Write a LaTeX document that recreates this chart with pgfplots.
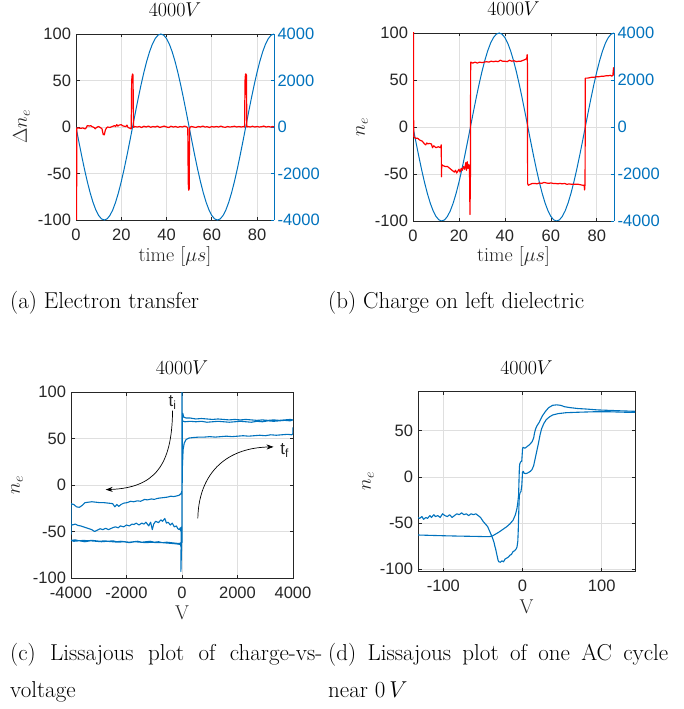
\RequirePackage{fix-cm}
\documentclass[border=0pt]{standalone}
\usepackage{fontspec}
\setsansfont{Liberation Sans}
\usepackage{pgfplots}
\usepackage{pgfplotstable}
\pgfplotsset{compat=1.18}
\usetikzlibrary{arrows.meta}

\definecolor{mblue}{RGB}{0,114,189}
\definecolor{axgray}{RGB}{38,38,38}
\definecolor{gridgray}{RGB}{223,223,223}

\newcommand\capfont{\fontsize{23}{28}\selectfont}

\pgfplotsset{
  matfig/.style={
    scale only axis,
    axis line style={axgray, line width=0.8pt},
    every tick/.style={axgray, line width=0.6pt},
    tick align=inside,
    major tick length=3.5pt,
    grid=major,
    major grid style={gridgray, line width=0.6pt},
    tick label style={font=\fontsize{16.5}{16.5}\sffamily, text=axgray},
    xticklabel style={yshift=-5pt},
    yticklabel style={xshift=-1.5pt},
    label style={font=\fontsize{20}{20}\selectfont, text=axgray},
    title style={font=\fontsize{20}{20}\selectfont, at={(axis description cs:0.5,1.097)}, anchor=center},
    scaled ticks=false,
    /pgf/number format/assume math mode=true,
    /pgf/number format/1000 sep={},
  },
}

% drive voltage, 20 kHz, amplitude 4000 V
\pgfplotstableread{
t V
0 0
1.25 -626
2.5 -1236
3.75 -1816
5 -2351
6.25 -2828
7.5 -3236
8.75 -3564
10 -3804
11.25 -3951
12.5 -4000
13.75 -3951
15 -3804
16.25 -3564
17.5 -3236
18.75 -2828
20 -2351
21.25 -1816
22.5 -1236
23.75 -626
25 0
26.25 626
27.5 1236
28.75 1816
30 2351
31.25 2828
32.5 3236
33.75 3564
35 3804
36.25 3951
37.5 4000
38.75 3951
40 3804
41.25 3564
42.5 3236
43.75 2828
45 2351
46.25 1816
47.5 1236
48.75 626
50 0
51.25 -626
52.5 -1236
53.75 -1816
55 -2351
56.25 -2828
57.5 -3236
58.75 -3564
60 -3804
61.25 -3951
62.5 -4000
63.75 -3951
65 -3804
66.25 -3564
67.5 -3236
68.75 -2828
70 -2351
71.25 -1816
72.5 -1236
73.75 -626
75 0
76.25 626
77.5 1236
78.75 1816
80 2351
81.25 2828
82.5 3236
83.75 3564
85 3804
86.25 3951
87.5 4000
}\drivetab

% electron transfer per step
\pgfplotstableread{
t dn
0.2 -150
0.35 -1
1 -1
2 -1.5
3 -1
4 -2
4.5 -1
5 1.5
6 1
6.5 1.5
7 0.5
8 -0.5
8.5 -2
9 -0.5
10 0.5
11 -1
11.5 -2
12 -8
12.5 -8.5
13 -3
13.5 -1
14 0
15 -0.5
16 0.5
17 1.5
17.5 0.5
18 2.5
18.5 1
19 2
20 2.5
20.5 1.5
21 1
22 0.5
22.5 2
23 -0.5
23.5 -1
24 -1.5
24.4 -2
24.6 50
24.8 55
25.0 57
25.2 56
25.4 -0.5
26 0.5
27 0
28 0.5
29 -0.5
30 0.8
31 0
32 1
33 -0.3
34 0.5
35 0
36 1
37 -0.5
38 0.3
39 1
40 0
41 -0.5
42 0.8
43 0
44 0.5
45 -0.3
46 0.5
47 0
48 1
49 0
49.4 -1
49.6 -60
49.8 -68
50.0 -67
50.2 -2
50.5 0
51 0.5
52 0
53 -0.5
54 0.5
55 0
56 1
57 0
58 0.3
59 -0.5
60 0.5
61 0
62 0.5
63 0
64 1
65 0
66 -0.3
67 0.5
68 0
69 0.3
70 0.8
71 0
72 0.5
73 0
74 0.5
74.5 0
74.7 50
74.9 57
75.1 57
75.3 56
75.5 0
76 0.5
77 0
78 0.8
79 0
80 0.5
81 0
82 0.3
83 1
84 0
85 0.5
86 0
87 0.5
87.5 0
}\transfertab

% charge on the left dielectric
\pgfplotstableread{
t ne
0.15 120
0.3 -10
1 -12
2 -12
3 -14
4 -15
5 -18
5.5 -19
6 -17
6.5 -18
7 -17.5
8 -18
8.5 -22
9 -20
10 -22
11 -21
12 -22
12.3 -19
12.4 -53
12.5 -40
13 -41
14 -42
15 -42
16 -44
17 -46
17.5 -47
18 -48
18.5 -46
19 -49
19.5 -47
20 -45
20.5 -48
21 -44
21.5 -46
22 -42
22.5 -45
23 -38
23.3 -46
23.6 -37
24 -44
24.3 -40
24.6 -45
24.8 -93
25.0 -50
25.1 69
26 68
27 69
28 68
29 69
30 68.5
31 69
32 69.5
33 69
34 70
35 69.5
36 70
37 69.5
38 71
39 70
40 70
41 69.5
42 71
43 70
44 70.5
45 69.5
46 70
47 70
48 71
49 72
49.5 73
49.7 77
49.8 68
49.9 -60
50.2 -62
51 -61
52 -60
53 -60
54 -60.5
55 -59.5
56 -60
57 -59
58 -59.5
59 -60
60 -59.5
61 -60
62 -60
63 -60.5
64 -60
65 -60.5
66 -60
67 -61
68 -60.5
69 -61
70 -61
71 -61
72 -61
73 -61.5
74 -62
74.5 -62
74.7 -67
74.9 -60
75 52
76 52
77 52.5
78 53
79 53
80 53.5
81 53.5
82 54
83 54
84 54.5
85 54.5
86 55
86.5 54
87 55
87.3 63
87.5 55
}\chargetab

\begin{document}
\begin{tikzpicture}
\useasboundingbox (0pt,0pt) rectangle (684pt,-709pt);

% ---------------- (a) electron transfer ----------------
\begin{axis}[matfig, at={(76pt,-34pt)}, anchor=north west,
  width=198pt, height=186pt,
  xmin=0, xmax=87.5, ymin=-100, ymax=100,
  axis y line*=left,
  xtick={0,20,40,60,80}, ytick={-100,-50,0,50,100},
  title={$4000V$}, xlabel={time [$\mu s$]}, ylabel={$\Delta n_e$},
  xlabel style={at={(axis description cs:0.5,-0.197)}, anchor=center},
  ylabel style={at={(axis description cs:-0.275,0.5)}, anchor=center}]
\end{axis}
\begin{axis}[matfig, at={(76pt,-34pt)}, anchor=north west,
  width=198pt, height=186pt, grid=none,
  xmin=0, xmax=87.5, ymin=-4000, ymax=4000,
  axis y line*=right, axis x line=none,
  ytick={-4000,-2000,0,2000,4000},
  y axis line style={mblue}, ytick style={mblue},
  yticklabel style={text=mblue, xshift=1.5pt}]
\addplot[mblue, line width=1pt] table[x=t, y=V] {\drivetab};
\end{axis}
\begin{axis}[scale only axis, hide axis, at={(76pt,-34pt)}, anchor=north west,
  width=198pt, height=186pt,
  xmin=0, xmax=87.5, ymin=-100, ymax=100]
\addplot[red, line width=1.2pt, line join=round] table[x=t, y=dn] {\transfertab};
\end{axis}

% ---------------- (b) charge on left dielectric ----------------
\begin{axis}[matfig, at={(413pt,-33pt)}, anchor=north west,
  width=201pt, height=188pt,
  xmin=0, xmax=87.5, ymin=-100, ymax=100,
  axis y line*=left,
  xtick={0,20,40,60,80}, ytick={-100,-50,0,50,100},
  title={$4000V$}, xlabel={time [$\mu s$]}, ylabel={$n_e$},
  xlabel style={at={(axis description cs:0.5,-0.19)}, anchor=center},
  ylabel style={at={(axis description cs:-0.254,0.5)}, anchor=center}]
\end{axis}
\begin{axis}[matfig, at={(413pt,-33pt)}, anchor=north west,
  width=201pt, height=188pt, grid=none,
  xmin=0, xmax=87.5, ymin=-4000, ymax=4000,
  axis y line*=right, axis x line=none,
  ytick={-4000,-2000,0,2000,4000},
  y axis line style={mblue}, ytick style={mblue},
  yticklabel style={text=mblue, xshift=1.5pt}]
\addplot[mblue, line width=1pt] table[x=t, y=V] {\drivetab};
\end{axis}
\begin{axis}[scale only axis, hide axis, at={(413pt,-33pt)}, anchor=north west,
  width=201pt, height=188pt,
  xmin=0, xmax=87.5, ymin=-100, ymax=100]
\addplot[red, line width=1.2pt, line join=round] table[x=t, y=ne] {\chargetab};
\end{axis}

% ---------------- (c) charge versus voltage ----------------
\begin{axis}[matfig, at={(71pt,-392pt)}, anchor=north west,
  width=222pt, height=186pt,
  xmin=-4000, xmax=4000, ymin=-100, ymax=100,
  xtick={-4000,-2000,0,2000,4000}, ytick={-100,-50,0,50,100},
  title={$4000V$}, xlabel={V}, ylabel={$n_e$},
  xlabel style={at={(axis description cs:0.5,-0.185)}, anchor=center},
  ylabel style={at={(axis description cs:-0.243,0.5)}, anchor=center}]
\addplot[mblue, line width=1.1pt, line join=round] coordinates {
(0,102) (0,-6) (-30,-9) (-100,-11) (-160,-11.5) (-300,-12.5) (-400,-12)
(-520,-13) (-650,-13.5) (-800,-14) (-900,-14.5) (-1000,-15.5) (-1100,-15)
(-1250,-16) (-1350,-15.5) (-1490,-17.5) (-1600,-17) (-1750,-18) (-1850,-17.5)
(-1980,-19) (-2100,-19.5) (-2200,-21) (-2280,-23) (-2350,-21) (-2420,-23.5)
(-2500,-20) (-2650,-19.5) (-2800,-19) (-2950,-19) (-3100,-18.5) (-3250,-18)
(-3400,-18.6) (-3500,-19) (-3600,-22) (-3700,-24) (-3800,-23.5) (-3900,-21)
(-3960,-20.5) (-4000,-20) (-4000,-53) (-4000,-42)
(-3950,-43) (-3850,-42) (-3750,-43.5) (-3650,-44) (-3550,-45) (-3450,-46)
(-3350,-47) (-3250,-48) (-3150,-50) (-3050,-48.5) (-2950,-47) (-2850,-48)
(-2750,-46.5) (-2650,-48) (-2580,-47) (-2500,-46) (-2400,-45) (-2300,-46)
(-2220,-44) (-2100,-45) (-2000,-43) (-1900,-44) (-1800,-42) (-1730,-42.5)
(-1650,-41) (-1550,-43) (-1450,-41) (-1370,-42) (-1300,-40) (-1200,-44)
(-1130,-40) (-1070,-48) (-1020,-42) (-950,-39) (-850,-40.5) (-760,-37.5)
(-700,-39) (-620,-36) (-560,-41) (-500,-40) (-420,-43) (-350,-41) (-280,-45)
(-200,-44) (-150,-47) (-100,-48) (-60,-46) (-40,-50) (-20,-45) (-30,-52)
(-40,-93) (0,-50) (15,69)
(100,68) (300,68.5) (500,68) (700,68.5) (900,67.5) (1100,68) (1300,68.5)
(1500,68) (1700,67.5) (1900,68) (2100,68.5) (2300,68) (2500,67.5) (2700,68.5)
(2900,68) (3100,69) (3300,68.5) (3500,69) (3700,69.5) (3900,69) (4000,70)
(3900,70.5) (3700,70) (3500,69.5) (3300,70) (3100,69.5) (2900,70) (2700,69.5)
(2500,70) (2300,70.5) (2100,70) (1900,70.5) (1700,70) (1500,70.5) (1300,71)
(1100,70.5) (900,71) (700,71.5) (500,71) (300,72) (150,72) (60,73) (30,77)
(15,72) (0,-62)
(-30,-62) (-100,-63) (-250,-62.5) (-400,-62) (-550,-61.5) (-700,-62)
(-850,-61) (-1000,-61.5) (-1150,-60.5) (-1300,-61) (-1450,-61.5) (-1600,-60.5)
(-1750,-61) (-1900,-61.5) (-2050,-61) (-2200,-60.5) (-2350,-61) (-2500,-60)
(-2650,-60.5) (-2800,-60) (-2950,-60.5) (-3100,-60) (-3250,-59.5) (-3400,-60)
(-3550,-59.5) (-3700,-60) (-3850,-59) (-4000,-59.5)
(-3900,-60.5) (-3700,-60) (-3500,-61) (-3300,-60) (-3100,-60.5) (-2900,-61)
(-2700,-60.5) (-2500,-61) (-2300,-61.5) (-2100,-61) (-1900,-62) (-1700,-61)
(-1500,-61.5) (-1300,-62) (-1100,-61.5) (-900,-62) (-700,-62) (-500,-62.5)
(-300,-63) (-150,-63.5) (-60,-64) (-30,-67) (-10,-62)
(0,0) (15,20) (40,38) (80,45) (150,49) (250,50.5) (400,51) (600,51.5)
(800,51.5) (1000,52) (1200,51.5) (1400,52) (1600,52.5) (1800,52) (2000,52.5)
(2200,53) (2400,52.5) (2600,53) (2800,53.5) (3000,53) (3200,54) (3400,53.5)
(3600,54) (3800,54.5) (3950,54) (4000,55) (4000,62)
};
\node[font=\fontsize{17}{17}\sffamily, text=axgray] at (axis cs:-340,89) {t\textsubscript{i}};
\node[font=\fontsize{17}{17}\sffamily, text=axgray] at (axis cs:3700,37) {t\textsubscript{f}};
\draw[-{Stealth[length=7pt,width=5pt]}, line width=0.7pt]
  (axis cs:-340,80) .. controls (axis cs:-360,20) and (axis cs:-1000,-3) .. (axis cs:-2750,-5);
\draw[-{Stealth[length=7pt,width=5pt]}, line width=0.7pt]
  (axis cs:570,-36) .. controls (axis cs:600,10) and (axis cs:1500,40) .. (axis cs:3300,41);
\end{axis}

% ---------------- (d) one cycle near 0 V ----------------
\begin{axis}[matfig, at={(418pt,-391pt)}, anchor=north west,
  width=217pt, height=180pt,
  xmin=-132, xmax=142, ymin=-102, ymax=93,
  xtick={-100,0,100}, ytick={-100,-50,0,50},
  title={$4000V$}, xlabel={V}, ylabel={$n_e$},
  xlabel style={at={(axis description cs:0.5,-0.198)}, anchor=center},
  ylabel style={at={(axis description cs:-0.23,0.5)}, anchor=center}]
\addplot[mblue, line width=1.1pt, line join=round] coordinates {
(-132,-44) (-130,-45) (-127,-43) (-125,-46) (-122,-44) (-120,-45) (-117,-42)
(-115,-44) (-112,-41) (-110,-43) (-107,-42) (-104,-44) (-101,-40) (-98,-42)
(-95,-43) (-92,-41) (-89,-44) (-86,-42) (-83,-40) (-80,-41) (-77,-39)
(-74,-41) (-71,-40) (-68,-42) (-65,-40) (-62,-41) (-59,-40) (-56,-42)
(-53,-44) (-50,-48) (-47,-51) (-44,-54) (-42,-58) (-40,-62) (-38,-66)
(-36,-71) (-35,-75) (-34,-78) (-33,-82) (-32,-86) (-31,-90) (-30,-92)
(-28,-92.5) (-26,-91) (-24,-92) (-22,-89) (-20,-88) (-18,-87) (-16,-85)
(-14,-84) (-12,-81) (-10,-80) (-8,-78) (-7,-76) (-6,-70) (-5.5,-60)
(-5,-45) (-4.5,-30) (-4,-20) (-3,-17) (-2,-16) (-1,-10) (0,5) (1,6) (2,4)
(4,3.5) (6,4) (8,5) (10,6) (12,8) (13,10) (14,12) (16,20) (18,28) (20,36)
(22,45) (24,52) (27,58) (30,62) (34,65) (38,67) (45,68.5) (55,69.5) (70,70)
(90,70.5) (110,70.5) (130,70) (142,70)
};
\addplot[mblue, line width=1.1pt, line join=round] coordinates {
(-132,-63) (-120,-63.3) (-100,-63.8) (-80,-64.2) (-60,-64.5) (-50,-64.7)
(-42,-64.8) (-38,-64) (-34,-62) (-30,-60) (-25,-57) (-20,-54) (-16,-51)
(-12,-47) (-9,-41) (-7,-34) (-6,-28) (-5,-20) (-4.5,-5) (-4,10) (-3.5,14)
(-2.5,16) (-1,17) (0,30) (0.5,32) (3,31) (6,33) (9,35) (12,38) (14,42)
(15,47) (16.5,52) (18,55) (21,59) (25,66) (29,71) (33,75) (38,77.5) (43,78)
(48,77.5) (53,76) (60,75) (70,74) (80,73.5) (95,72.5) (110,72) (125,71.5)
(142,71)
};
\end{axis}

% ---------------- captions ----------------
\node[anchor=base west, inner sep=0, font=\capfont] at (10pt,-308pt) {(a) Electron transfer};
\node[anchor=base west, inner sep=0, font=\capfont] at (328pt,-308pt) {(b) Charge on left dielectric};
\node[anchor=base west, inner sep=0, font=\capfont] at (10pt,-660pt) {\hbox to 312pt{(c) Lissajous plot of charge-vs-}};
\node[anchor=base west, inner sep=0, font=\capfont] at (10pt,-697pt) {voltage};
\node[anchor=base west, inner sep=0, font=\capfont] at (328pt,-660pt) {\hbox to 340pt{(d) Lissajous plot of one AC cycle}};
\node[anchor=base west, inner sep=0, font=\capfont] at (328pt,-697pt) {near $0\,V$};
\end{tikzpicture}
\end{document}
